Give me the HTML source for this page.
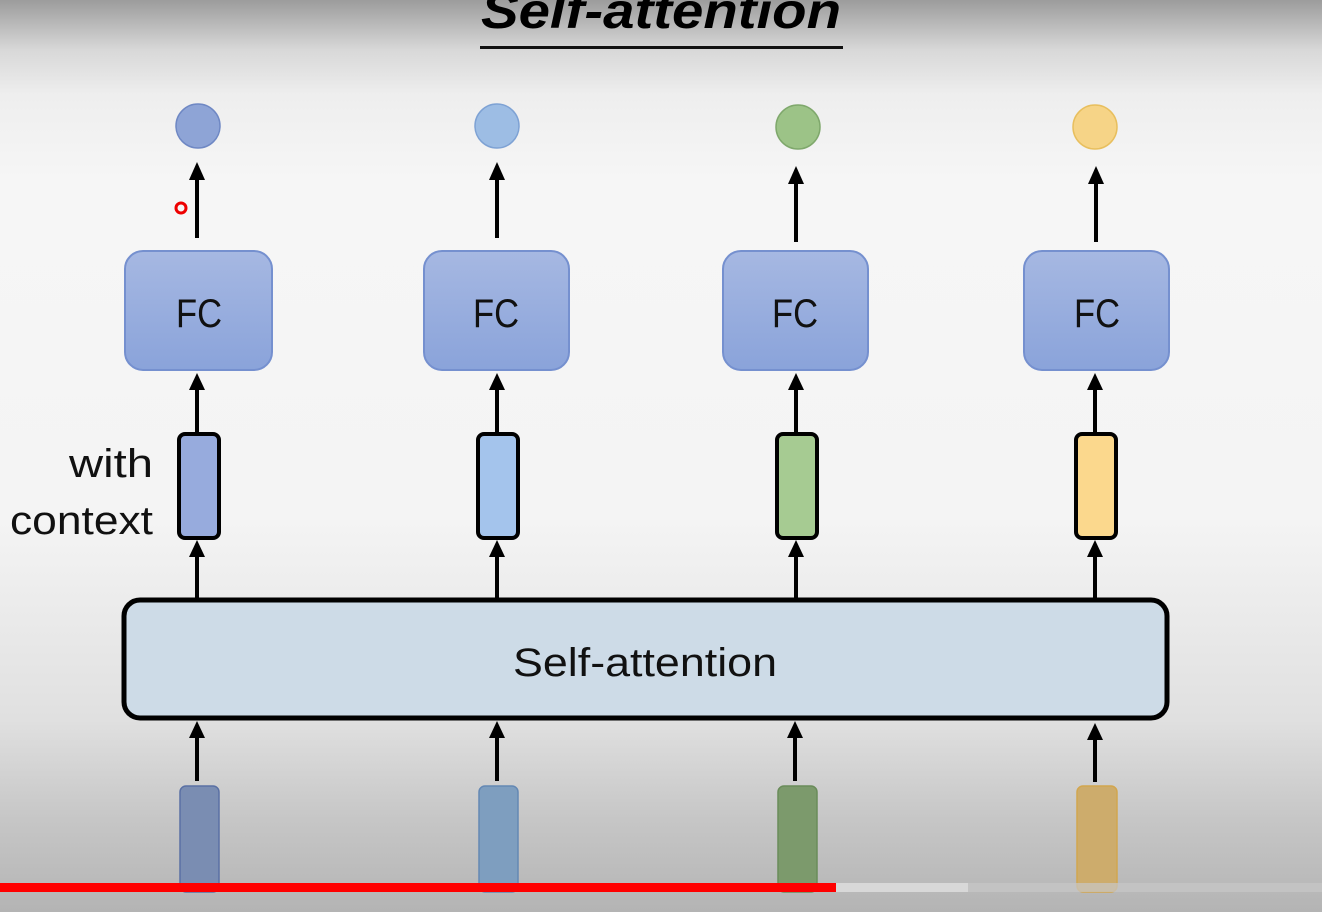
<!DOCTYPE html>
<html><head><style>
html,body{margin:0;padding:0;width:1322px;height:912px;overflow:hidden}
body{background:linear-gradient(to bottom,#9c9c9c 0px,#d8d8d8 50px,#eeeeee 95px,#f6f6f6 180px,#f4f4f4 520px,#e0e0e0 720px,#c6c6c6 820px,#b4b4b4 912px)}
svg{position:absolute;left:0;top:0}
</style></head><body>
<svg width="1322" height="912" viewBox="0 0 1322 912" xmlns="http://www.w3.org/2000/svg">
<defs>
<linearGradient id="fc" x1="0" y1="0" x2="0" y2="1"><stop offset="0" stop-color="#a6b8e2"/><stop offset="1" stop-color="#8aa3da"/></linearGradient>
</defs>
<text x="661" y="28" text-anchor="middle" font-family="Liberation Sans, sans-serif" font-weight="bold" font-style="italic" font-size="50" fill="#000" textLength="360" lengthAdjust="spacingAndGlyphs">Self-attention</text>
<rect x="480" y="46" width="363" height="3" fill="#111"/>

<circle cx="198" cy="126" r="22" fill="#8ea4d6" stroke="#6f88c4" stroke-width="1.5"/>
<circle cx="497" cy="126" r="22" fill="#9dbde4" stroke="#7ea2d4" stroke-width="1.5"/>
<circle cx="798" cy="127" r="22" fill="#9cc387" stroke="#7fa86c" stroke-width="1.5"/>
<circle cx="1095" cy="127" r="22" fill="#f6d487" stroke="#e8bf5e" stroke-width="1.5"/>

<g stroke="#000" stroke-width="4">
<line x1="197" y1="238" x2="197" y2="178"/><line x1="497" y1="238" x2="497" y2="178"/><line x1="796" y1="242" x2="796" y2="182"/><line x1="1096" y1="242" x2="1096" y2="182"/>
<line x1="197" y1="432" x2="197" y2="388"/><line x1="497" y1="432" x2="497" y2="388"/><line x1="796" y1="432" x2="796" y2="388"/><line x1="1095" y1="432" x2="1095" y2="388"/>
<line x1="197" y1="598" x2="197" y2="555"/><line x1="497" y1="598" x2="497" y2="555"/><line x1="796" y1="598" x2="796" y2="555"/><line x1="1095" y1="598" x2="1095" y2="555"/>
<line x1="197" y1="781" x2="197" y2="735"/><line x1="497" y1="781" x2="497" y2="735"/><line x1="795" y1="781" x2="795" y2="735"/><line x1="1095" y1="782" x2="1095" y2="737"/>
</g>
<g fill="#000">
<polygon points="189,180 197,162 205,180"/><polygon points="489,180 497,162 505,180"/><polygon points="788,184 796,166 804,184"/><polygon points="1088,184 1096,166 1104,184"/>
<polygon points="189,390 197,373 205,390"/><polygon points="489,390 497,373 505,390"/><polygon points="788,390 796,373 804,390"/><polygon points="1087,390 1095,373 1103,390"/>
<polygon points="189,557 197,540 205,557"/><polygon points="489,557 497,540 505,557"/><polygon points="788,557 796,540 804,557"/><polygon points="1087,557 1095,540 1103,557"/>
<polygon points="189,738 197,721 205,738"/><polygon points="489,738 497,721 505,738"/><polygon points="787,738 795,721 803,738"/><polygon points="1087,740 1095,723 1103,740"/>
</g>

<g fill="url(#fc)" stroke="#7590cf" stroke-width="2">
<rect x="125" y="251" width="147" height="119" rx="18"/>
<rect x="424" y="251" width="145" height="119" rx="18"/>
<rect x="723" y="251" width="145" height="119" rx="18"/>
<rect x="1024" y="251" width="145" height="119" rx="18"/>
</g>
<g font-family="Liberation Sans, sans-serif" font-size="40" fill="#111">
<text x="176" y="327" textLength="46" lengthAdjust="spacingAndGlyphs">FC</text>
<text x="473" y="327" textLength="46" lengthAdjust="spacingAndGlyphs">FC</text>
<text x="772" y="327" textLength="46" lengthAdjust="spacingAndGlyphs">FC</text>
<text x="1074" y="327" textLength="46" lengthAdjust="spacingAndGlyphs">FC</text>
</g>

<g stroke="#000" stroke-width="4">
<rect x="179" y="434" width="40" height="104" rx="6" fill="#97abdd"/>
<rect x="478" y="434" width="40" height="104" rx="6" fill="#a4c4ec"/>
<rect x="777" y="434" width="40" height="104" rx="6" fill="#a6cb92"/>
<rect x="1076" y="434" width="40" height="104" rx="6" fill="#fbd88d"/>
</g>
<g font-family="Liberation Sans, sans-serif" font-size="40" fill="#111">
<text x="69" y="477" textLength="84" lengthAdjust="spacingAndGlyphs">with</text>
<text x="10" y="534" textLength="143" lengthAdjust="spacingAndGlyphs">context</text>
</g>

<rect x="124" y="600" width="1043" height="118" rx="16" fill="#cddbe7" stroke="#000" stroke-width="5"/>
<text x="513" y="676" font-family="Liberation Sans, sans-serif" font-size="40" fill="#111" textLength="264" lengthAdjust="spacingAndGlyphs">Self-attention</text>

<g stroke-width="1.5">
<rect x="180" y="786" width="39" height="106" rx="6" fill="#7a8db2" stroke="#5a70a4"/>
<rect x="479" y="786" width="39" height="106" rx="6" fill="#7e9ebf" stroke="#6488b4"/>
<rect x="778" y="786" width="39" height="106" rx="6" fill="#7c9a6c" stroke="#6a8c5a"/>
<rect x="1077" y="786" width="40" height="106" rx="6" fill="#cdac6c" stroke="#d2a64e"/>
</g>

<rect x="0" y="883" width="836" height="9" fill="#ff0000"/>
<rect x="836" y="883" width="132" height="9" fill="#dcdcdc" opacity="0.9"/>
<rect x="968" y="883" width="354" height="9" fill="#c8c8c8" opacity="0.7"/>
<circle cx="181" cy="208" r="5" fill="none" stroke="#e00" stroke-width="3"/>
</svg>
</body></html>
